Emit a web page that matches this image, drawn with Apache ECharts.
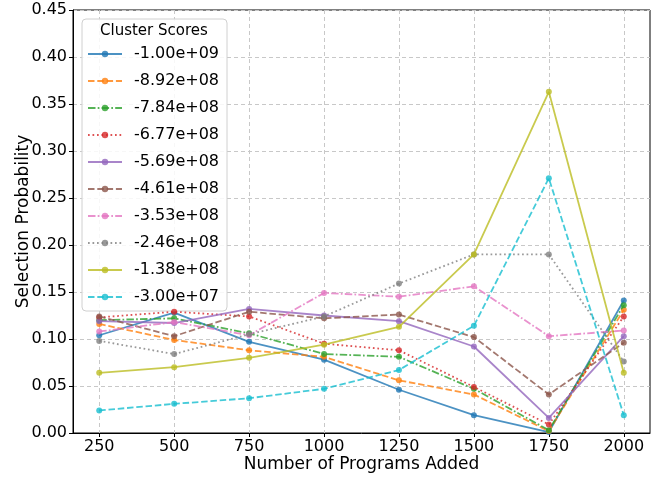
<!DOCTYPE html>
<html>
<head>
<meta charset="utf-8">
<script src="https://cdn.jsdelivr.net/npm/echarts@6/dist/echarts.min.js"></script>
<style>html,body{margin:0;padding:0;background:#fff;}#c{width:662px;height:479px;}</style>
</head>
<body>
<div id="c"></div>
<script>
const xValues = [250, 500, 750, 1000, 1250, 1500, 1750, 2000];
const yTicks = [0, 0.05, 0.10, 0.15, 0.20, 0.25, 0.30, 0.35, 0.40, 0.45];
const seriesNames = ['-1.00e+09', '-8.92e+08', '-7.84e+08', '-6.77e+08', '-5.69e+08', '-4.61e+08', '-3.53e+08', '-2.46e+08', '-1.38e+08', '-3.00e+07'];
const s0 = [0.104, 0.128, 0.097, 0.078, 0.046, 0.019, 0.001, 0.141];
const s1 = [0.116, 0.099, 0.088, 0.081, 0.056, 0.041, 0.002, 0.131];
const s2 = [0.120, 0.122, 0.106, 0.084, 0.081, 0.047, 0.003, 0.136];
const s3 = [0.123, 0.129, 0.124, 0.095, 0.088, 0.049, 0.009, 0.124];
const s4 = [0.119, 0.117, 0.132, 0.125, 0.119, 0.092, 0.016, 0.103];
const s5 = [0.124, 0.103, 0.129, 0.122, 0.126, 0.102, 0.041, 0.096];
const s6 = [0.108, 0.118, 0.104, 0.149, 0.145, 0.156, 0.103, 0.109];
const s7 = [0.098, 0.084, 0.105, 0.124, 0.159, 0.190, 0.190, 0.076];
const s8 = [0.064, 0.070, 0.080, 0.094, 0.113, 0.190, 0.363, 0.064];
const s9 = [0.024, 0.031, 0.037, 0.047, 0.067, 0.114, 0.271, 0.019];
const allSeries = [s0, s1, s2, s3, s4, s5, s6, s7, s8, s9];

const colors = ['#1f77b4', '#ff7f0e', '#2ca02c', '#d62728', '#9467bd', '#8c564b', '#e377c2', '#7f7f7f', '#bcbd22', '#17becf'];
const DASHED = [6.5, 2.8], DOTTED = [1.7, 2.8], DASHDOT = [7.5, 2.2, 1.7, 2.2];
const styles = ['solid', DASHED, DASHDOT, DOTTED, 'solid', DASHED, DASHDOT, DOTTED, 'solid', DASHED];
const FONT = 'DejaVu Sans';

const chart = echarts.init(document.getElementById('c'), null, {renderer: 'canvas'});
const series = allSeries.map((vals, i) => ({
  name: seriesNames[i],
  type: 'line',
  data: vals.map((v, j) => [xValues[j], v]),
  symbol: 'circle',
  symbolSize: 6,
  lineStyle: {color: colors[i], width: 1.8, type: styles[i], opacity: 0.8},
  itemStyle: {color: colors[i], opacity: 0.8},
  emphasis: {disabled: true},
  animation: false,
  z: 2 + i
}));

chart.setOption({
  animation: false,
  backgroundColor: '#fff',
  textStyle: {fontFamily: FONT},
  grid: {left: 73, right: 12, top: 10, bottom: 46, show: true, borderColor: '#000', borderWidth: 1, containLabel: false},
  xAxis: {
    type: 'value', min: 162.5, max: 2087.5,
    name: 'Number of Programs Added', nameLocation: 'middle', nameGap: 23, nameMoveOverlap: false,
    nameTextStyle: {fontSize: 17, color: '#000', fontFamily: FONT},
    axisLine: {show: true, lineStyle: {color: '#000', width: 1}},
    axisTick: {show: true, length: 4, customValues: xValues, lineStyle: {color: '#000'}},
    axisLabel: {customValues: xValues, fontSize: 16, color: '#000', margin: 6, fontFamily: FONT, formatter: v => String(v)},
    splitLine: {show: true, lineStyle: {color: '#c8c8c8', type: [4, 3], width: 1}}
  },
  yAxis: {
    type: 'value', min: 0, max: 0.45, interval: 0.05,
    name: 'Selection Probability', nameLocation: 'middle', nameGap: 41, nameMoveOverlap: false,
    nameTextStyle: {fontSize: 17, color: '#000', fontFamily: FONT},
    axisLine: {show: true, lineStyle: {color: '#000', width: 1}},
    axisTick: {show: true, length: 4, lineStyle: {color: '#000'}},
    axisLabel: {fontSize: 16, color: '#000', margin: 6, fontFamily: FONT, formatter: v => v.toFixed(2)},
    splitLine: {show: true, lineStyle: {color: '#c8c8c8', type: [4, 3], width: 1}}
  },
  legend: {
    orient: 'vertical', left: 82, top: 19,
    data: seriesNames,
    itemWidth: 34, itemHeight: 8, itemGap: 11,
    padding: [27, 8, 6, 5],
    backgroundColor: 'rgba(255,255,255,0.85)', borderColor: '#d0d0d0', borderWidth: 1, borderRadius: 4,
    textStyle: {fontSize: 16, color: '#000', lineHeight: 16, fontFamily: FONT, padding: [0, 0, 0, 7]},
    selectedMode: false
  },
  graphic: [{
    type: 'text', left: 100, top: 24, z: 100,
    style: {text: 'Cluster Scores', fontSize: 15, fill: '#000', fontFamily: FONT}
  }],
  series: series
});
</script>
</body>
</html>
